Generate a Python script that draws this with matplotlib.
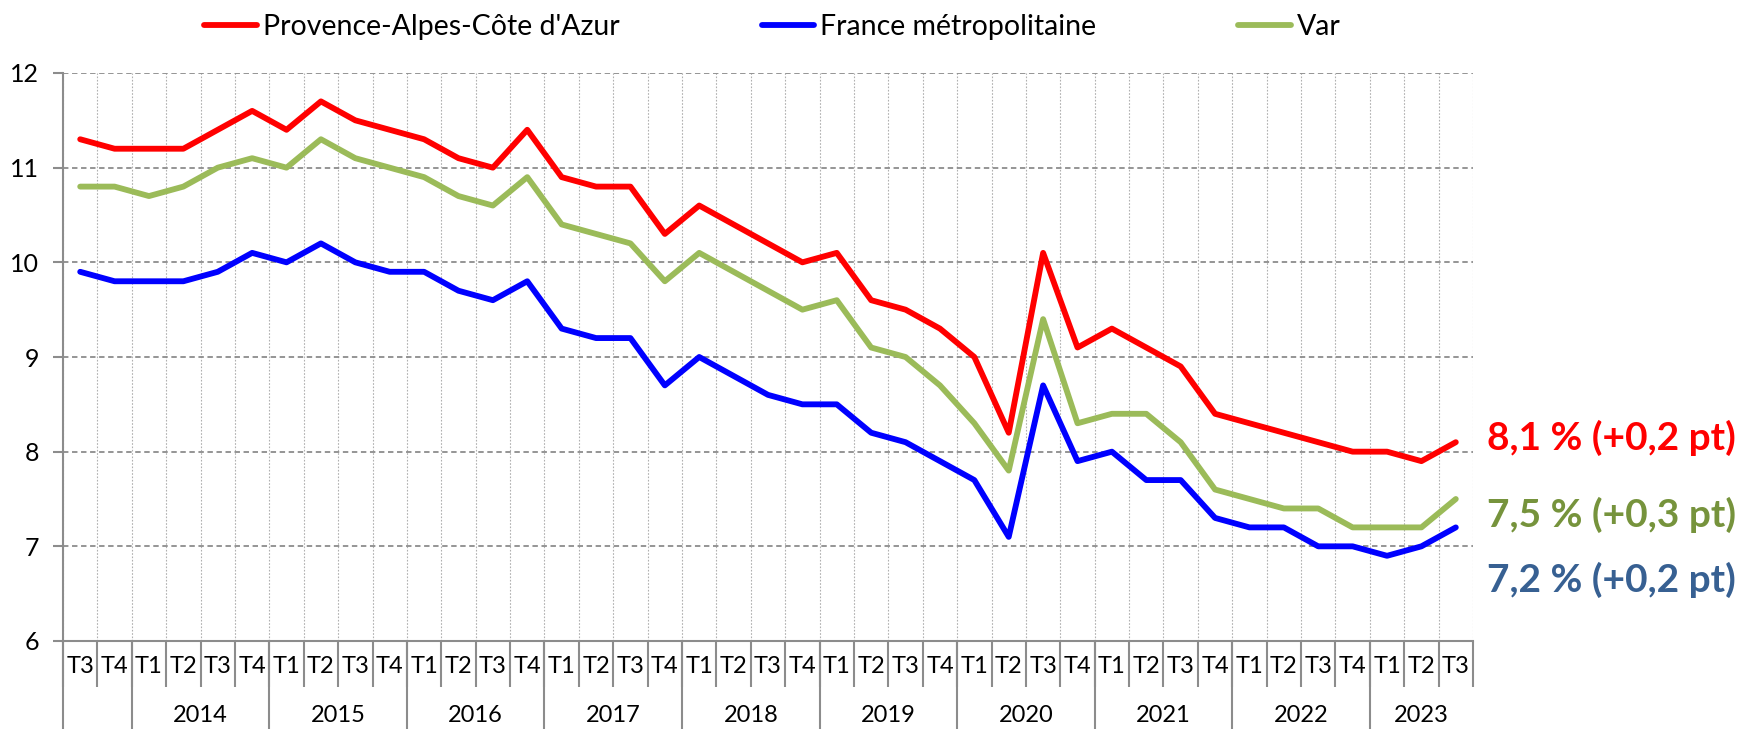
import numpy as np
import matplotlib
matplotlib.use("Agg")
import matplotlib.pyplot as plt
from matplotlib.transforms import blended_transform_factory

plt.rcParams['font.family'] = ['Lato', 'DejaVu Sans']

# Données : taux de chômage trimestriel (%), T3 2013 -> T3 2023
quarters = ["T3", "T4"] + ["T1", "T2", "T3", "T4"] * 9 + ["T1", "T2", "T3"]
years = ["2014", "2015", "2016", "2017", "2018", "2019", "2020", "2021", "2022", "2023"]

paca = [11.3, 11.2,
        11.2, 11.2, 11.4, 11.6,
        11.4, 11.7, 11.5, 11.4,
        11.3, 11.1, 11.0, 11.4,
        10.9, 10.8, 10.8, 10.3,
        10.6, 10.4, 10.2, 10.0,
        10.1, 9.6, 9.5, 9.3,
        9.0, 8.2, 10.1, 9.1,
        9.3, 9.1, 8.9, 8.4,
        8.3, 8.2, 8.1, 8.0,
        8.0, 7.9, 8.1]
france = [9.9, 9.8,
          9.8, 9.8, 9.9, 10.1,
          10.0, 10.2, 10.0, 9.9,
          9.9, 9.7, 9.6, 9.8,
          9.3, 9.2, 9.2, 8.7,
          9.0, 8.8, 8.6, 8.5,
          8.5, 8.2, 8.1, 7.9,
          7.7, 7.1, 8.7, 7.9,
          8.0, 7.7, 7.7, 7.3,
          7.2, 7.2, 7.0, 7.0,
          6.9, 7.0, 7.2]
var = [10.8, 10.8,
       10.7, 10.8, 11.0, 11.1,
       11.0, 11.3, 11.1, 11.0,
       10.9, 10.7, 10.6, 10.9,
       10.4, 10.3, 10.2, 9.8,
       10.1, 9.9, 9.7, 9.5,
       9.6, 9.1, 9.0, 8.7,
       8.3, 7.8, 9.4, 8.3,
       8.4, 8.4, 8.1, 7.6,
       7.5, 7.4, 7.4, 7.2,
       7.2, 7.2, 7.5]

labels_fin = ["8,1 % (+0,2 pt)", "7,5 % (+0,3 pt)", "7,2 % (+0,2 pt)"]
labels_y = [8.15, 7.33, 6.65]

RED, BLUE, GREEN = "#FF0000", "#0000FF", "#9BBB59"
GRID = "#8C8C8C"

n = len(quarters)
x = np.arange(n)

fig = plt.figure(figsize=(17.47, 7.29), dpi=100)
ax = fig.add_axes([63 / 1747, 1 - 641 / 729, (1473 - 63) / 1747, (641 - 73) / 729])

ax.plot(x, paca, color=RED, lw=4.2, label="Provence-Alpes-Côte d'Azur", solid_capstyle='round')
ax.plot(x, france, color=BLUE, lw=4.2, label="France métropolitaine", solid_capstyle='round')
ax.plot(x, var, color=GREEN, lw=4.2, label="Var", solid_capstyle='round')

ax.set_xlim(-0.5, n - 0.5)
ax.set_ylim(6, 12)
ax.set_yticks(range(6, 13))
ax.tick_params(axis='y', labelsize=18, length=7, color=GRID, width=1.5, pad=10)

# graduations : trimestres au centre, séparateurs aux bornes
ax.set_xticks(x)
ax.set_xticklabels(quarters, fontsize=17)
ax.tick_params(axis='x', which='major', length=0, pad=11)
ax.set_xticks(np.arange(-0.5, n, 1), minor=True)
ax.tick_params(axis='x', which='minor', length=33, color=GRID, width=1.5)

ax.grid(axis='y', which='major', color=GRID, ls=(0, (3, 2)), lw=1.3)
ax.grid(axis='x', which='minor', color='#B0B0B0', ls=(0, (1.5, 1.5)), lw=0.8)
ax.set_axisbelow(True)

for s in ['top', 'right']:
    ax.spines[s].set_visible(False)
for s in ['left', 'bottom']:
    ax.spines[s].set_color(GRID)
    ax.spines[s].set_linewidth(1.5)

# années et séparateurs d'années
tr = blended_transform_factory(ax.transData, ax.transAxes)
ybot = -(729 - 641) / (641 - 73)
bounds = [-0.5] + [1.5 + 4 * k for k in range(10)]
for b in bounds:
    ax.plot([b, b], [0, ybot], transform=tr, color=GRID, lw=1.5, clip_on=False)
for k, yr in enumerate(years):
    cx = 3.5 + 4 * k if k < 9 else 39
    ax.text(cx, -(716 - 641) / (641 - 73), yr, transform=tr, ha='center', va='center', fontsize=17)

# valeurs finales
for txt, yv, c in zip(labels_fin, labels_y, [RED, "#76933C", "#376092"]):
    ax.text(40.9, yv, txt, color=c, fontsize=28, fontweight='bold', ha='left', va='center', clip_on=False)

fig.legend(loc='upper left', bbox_to_anchor=(190 / 1747, 1.0), ncol=3, frameon=False,
           fontsize=20.5, handlelength=1.85, handletextpad=0.2, columnspacing=5.0,
           borderaxespad=0.1)

fig.savefig("out.png", dpi=100)
